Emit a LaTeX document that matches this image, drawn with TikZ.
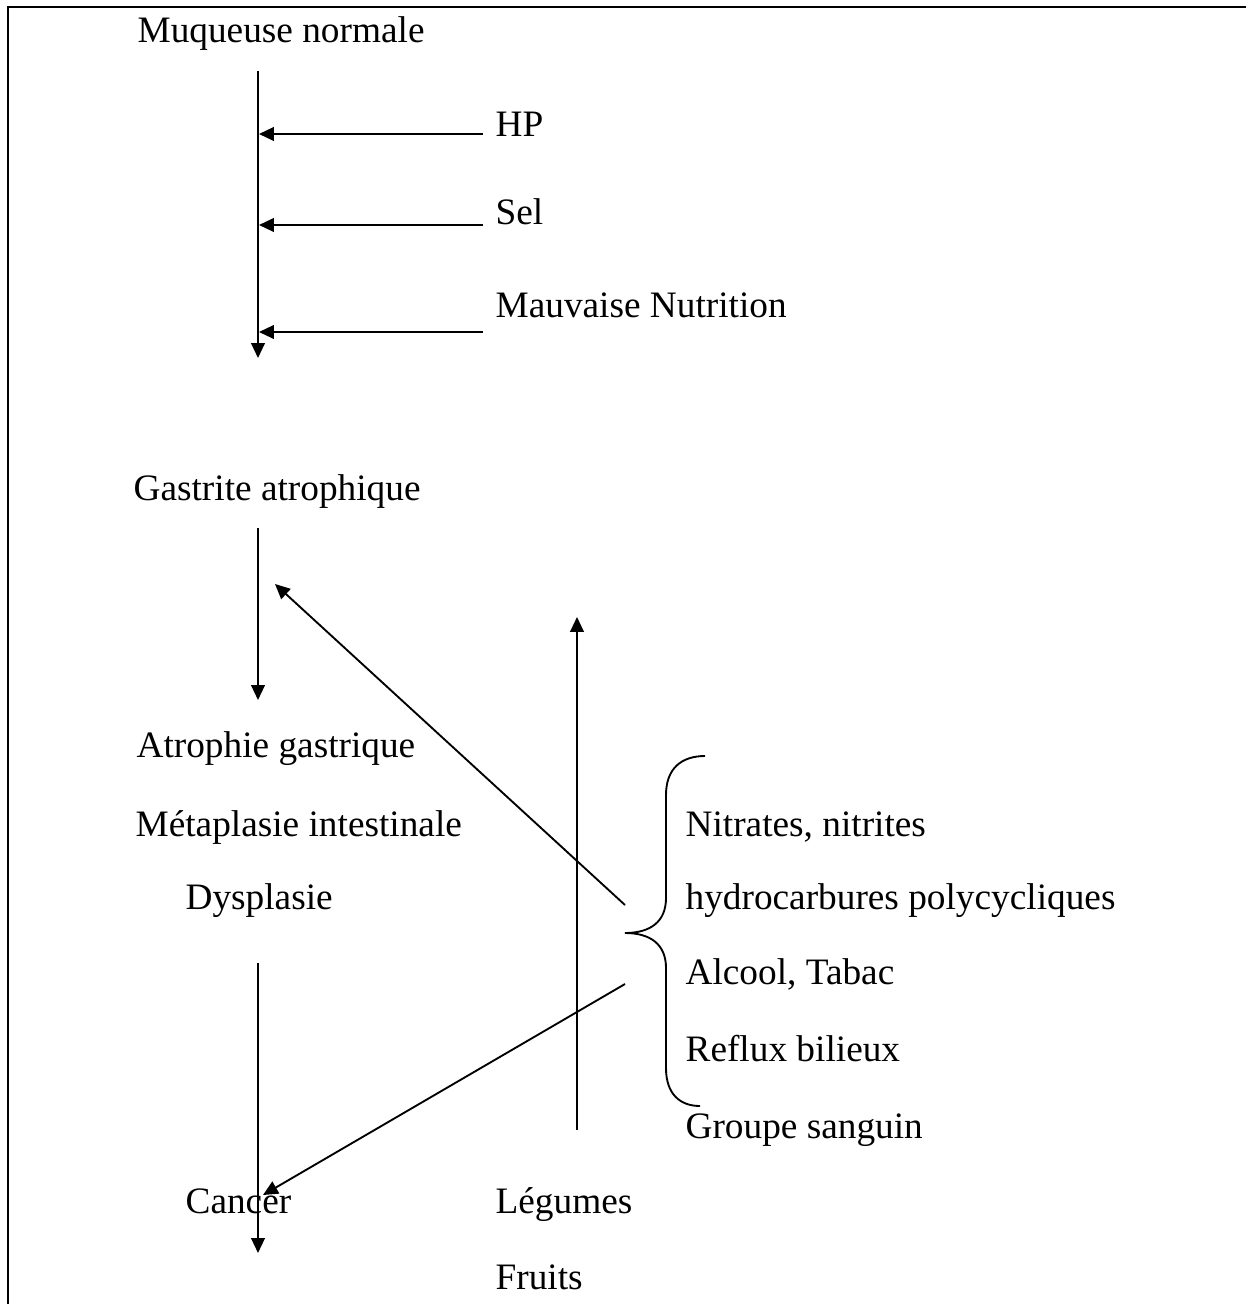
\documentclass[tikz,border=0pt]{standalone}
\usepackage{fontspec}
\setmainfont{Liberation Serif}
\usetikzlibrary{arrows.meta, positioning}

\begin{document}
\begin{tikzpicture}[x=0.3217pt, y=-0.3217pt]
	% Define styles
	\tikzset{
		txt/.style={anchor=base west, inner sep=0pt, font=\fontsize{12}{14}\selectfont},
		line/.style={draw, line width=0.6pt, -{Triangle[length=4.8pt, width=4.4pt]}},
		frame/.style={draw, line width=0.9pt},
		brace/.style={draw, line width=0.6pt}
	}
	\useasboundingbox (0,0) rectangle (1246,1304);
	\draw[frame] (8,1304) -- (8,7) -- (1246,7);
	
	% Nodes
	\node[txt] (muq) at (137,43) {Muqueuse normale};
	\node[txt] (hp) at (495,137) {HP};
	\node[txt] (sel) at (495,225) {Sel};
	\node[txt] (nutr) at (495,317) {Mauvaise Nutrition};
	\node[txt] (gast) at (133,500) {Gastrite atrophique};
	\node[txt] (atro) at (136,757) {Atrophie gastrique};
	\node[txt] (meta) at (135,836) {Métaplasie intestinale};
	\node[txt] (dysp) at (185,909) {Dysplasie};
	\node[txt] (cancer) at (185,1213) {Cancer};
	\node[txt] (leg) at (495,1213) {Légumes};
	\node[txt] (fruit) at (495,1289) {Fruits};
	
	\node[txt] (nitr) at (685,836) {Nitrates, nitrites};
	\node[txt] (hydro) at (685,909) {hydrocarbures polycycliques};
	\node[txt] (alc) at (685,984) {Alcool, Tabac};
	\node[txt] (refl) at (685,1061) {Reflux bilieux};
	\node[txt] (grp) at (685,1138) {Groupe sanguin};
	
	% Coordinates
	\coordinate (s1) at (258,71);
	\coordinate (e1) at (258,358);
	\coordinate (s2) at (258,528);
	\coordinate (e2) at (258,700);
	\coordinate (s3) at (258,963);
	\coordinate (e3) at (258,1253);
	
	\coordinate (hpin) at (483,134);
	\coordinate (hpon) at (259,134);
	\coordinate (selin) at (483,225);
	\coordinate (selon) at (259,225);
	\coordinate (nutrin) at (483,332);
	\coordinate (nutron) at (259,332);
	
	\coordinate (up1) at (577,1130);
	\coordinate (up2) at (577,617);
	
	\coordinate (tip) at (625,933);
	\coordinate (d1) at (625,905);
	\coordinate (d1e) at (275,584);
	\coordinate (d2) at (625,984);
	\coordinate (d2e) at (263,1195);
	
	% Brace
	\draw[brace] (705,756) .. controls (682,756) and (666,768) .. (666,795)
		-- (666,898) .. controls (666,922) and (650,933) .. (tip)
		.. controls (650,933) and (666,944) .. (666,968)
		-- (666,1068) .. controls (666,1094) and (680,1106) .. (700,1106);
	
	% Arrows
	\draw[line] (s1) -- (e1);
	\draw[line] (hpin) -- (hpon);
	\draw[line] (selin) -- (selon);
	\draw[line] (nutrin) -- (nutron);
	\draw[line] (s2) -- (e2);
	\draw[line] (s3) -- (e3);
	\draw[line] (up1) -- (up2);
	\draw[line] (d1) -- (d1e);
	\draw[line] (d2) -- (d2e);
	
\end{tikzpicture}
\end{document}
